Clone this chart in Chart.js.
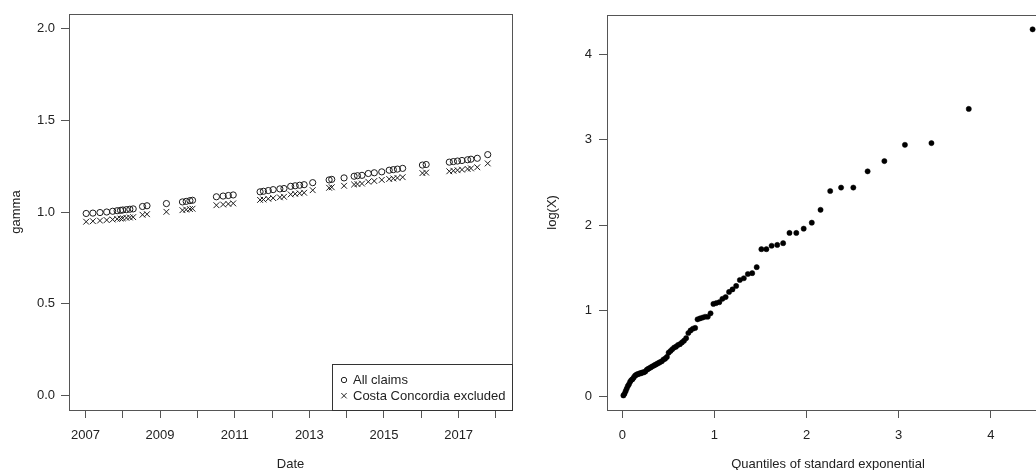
<!DOCTYPE html>
<html>
<head>
<meta charset="utf-8">
<script src="https://cdn.jsdelivr.net/npm/chart.js@4.4.1/dist/chart.umd.min.js"></script>
<style>
html, body { margin: 0; padding: 0; background: #fff; overflow: hidden; width: 1036px; height: 470px; }
canvas { position: absolute; top: 0; }
#gammaChart { left: 0; }
#qqChart { left: 518px; }
</style>
</head>
<body>
<canvas id="gammaChart" width="518" height="470"></canvas>
<canvas id="qqChart" width="542" height="470"></canvas>
<script>
// left panel: estimated gamma per claim date (decimal years)
var claimDates = [2007.02, 2007.20, 2007.39, 2007.57, 2007.73, 2007.85, 2007.94, 2008.00, 2008.10, 2008.19,
    2008.28, 2008.53, 2008.65, 2009.17, 2009.60, 2009.70, 2009.80, 2009.87, 2010.51, 2010.69,
    2010.83, 2010.96, 2011.68, 2011.77, 2011.90, 2012.03, 2012.21, 2012.32, 2012.50, 2012.62,
    2012.74, 2012.86, 2013.09, 2013.53, 2013.60, 2013.93, 2014.20, 2014.29, 2014.41, 2014.58,
    2014.74, 2014.94, 2015.14, 2015.25, 2015.36, 2015.50, 2016.03, 2016.13, 2016.75, 2016.86,
    2016.97, 2017.09, 2017.24, 2017.33, 2017.50, 2017.78];
var gammaAll = [0.992, 0.994, 0.997, 1.000, 1.004, 1.007, 1.009, 1.011, 1.013, 1.015,
    1.017, 1.030, 1.034, 1.046, 1.055, 1.058, 1.062, 1.064, 1.083, 1.087,
    1.090, 1.093, 1.110, 1.113, 1.117, 1.122, 1.126, 1.128, 1.140, 1.143,
    1.146, 1.149, 1.160, 1.175, 1.178, 1.186, 1.195, 1.198, 1.200, 1.210,
    1.214, 1.219, 1.228, 1.231, 1.234, 1.238, 1.256, 1.259, 1.272, 1.275,
    1.278, 1.281, 1.285, 1.288, 1.293, 1.313];
var gammaNoConcordia = [0.947, 0.950, 0.953, 0.956, 0.959, 0.962, 0.964, 0.966, 0.968, 0.970,
    0.972, 0.985, 0.988, 1.001, 1.010, 1.013, 1.016, 1.018, 1.037, 1.041,
    1.044, 1.047, 1.066, 1.068, 1.072, 1.076, 1.080, 1.083, 1.096, 1.099,
    1.102, 1.105, 1.119, 1.132, 1.135, 1.143, 1.150, 1.152, 1.155, 1.165,
    1.169, 1.175, 1.180, 1.183, 1.186, 1.190, 1.212, 1.215, 1.222, 1.225,
    1.228, 1.231, 1.235, 1.238, 1.244, 1.265];
var yearLabels = [2007, 2009, 2011, 2013, 2015, 2017];

// right panel: exponential QQ plot
var expQuantiles = [0.012, 0.024, 0.036, 0.048, 0.060, 0.072, 0.085, 0.098, 0.111, 0.124,
    0.137, 0.150, 0.164, 0.178, 0.192, 0.206, 0.220, 0.235, 0.250, 0.265,
    0.280, 0.296, 0.311, 0.327, 0.344, 0.360, 0.377, 0.394, 0.411, 0.429,
    0.447, 0.465, 0.484, 0.503, 0.523, 0.542, 0.563, 0.583, 0.604, 0.626,
    0.648, 0.670, 0.693, 0.717, 0.741, 0.766, 0.791, 0.817, 0.843, 0.871,
    0.899, 0.928, 0.958, 0.989, 1.020, 1.053, 1.087, 1.122, 1.159, 1.196,
    1.236, 1.276, 1.319, 1.363, 1.410, 1.459, 1.510, 1.564, 1.621, 1.682,
    1.746, 1.815, 1.889, 1.969, 2.057, 2.152, 2.257, 2.375, 2.508, 2.663,
    2.845, 3.068, 3.356, 3.761, 4.454];
var logX = [0.01, 0.03, 0.06, 0.09, 0.12, 0.14, 0.17, 0.19, 0.20, 0.22,
    0.24, 0.25, 0.26, 0.26, 0.27, 0.27, 0.28, 0.28, 0.29, 0.31,
    0.32, 0.33, 0.34, 0.35, 0.36, 0.37, 0.38, 0.39, 0.40, 0.41,
    0.43, 0.44, 0.46, 0.51, 0.53, 0.55, 0.57, 0.58, 0.60, 0.61,
    0.63, 0.65, 0.68, 0.74, 0.77, 0.79, 0.80, 0.90, 0.91, 0.92,
    0.93, 0.93, 0.97, 1.08, 1.09, 1.10, 1.14, 1.16, 1.22, 1.25,
    1.29, 1.36, 1.38, 1.43, 1.44, 1.51, 1.72, 1.72, 1.76, 1.77,
    1.79, 1.91, 1.91, 1.96, 2.03, 2.18, 2.40, 2.44, 2.44, 2.63,
    2.75, 2.94, 2.96, 3.36, 4.29];

Chart.defaults.font.family = '"Liberation Sans", Arial, Helvetica, sans-serif';
Chart.defaults.font.size = 13;
Chart.defaults.color = '#222';
Chart.defaults.animation = false;

function pairs(xs, ys) {
    return xs.map(function (x, i) { return { x: x, y: ys[i] }; });
}

// R style box round the plot region
var frame = {
    id: 'frame',
    afterDraw: function (chart) {
        var a = chart.chartArea, c = chart.ctx;
        c.save();
        c.strokeStyle = '#555';
        c.lineWidth = 1;
        c.strokeRect(Math.round(a.left) + 0.5, Math.round(a.top) + 0.5,
            Math.round(a.right - a.left), Math.round(a.bottom - a.top));
        c.restore();
    }
};

// legend box in the bottom right corner
var cornerLegend = {
    id: 'cornerLegend',
    afterDraw: function (chart) {
        var a = chart.chartArea, c = chart.ctx;
        var left = 332, top = 364;
        c.save();
        c.strokeStyle = '#333';
        c.lineWidth = 1;
        c.strokeRect(left + 0.5, top + 0.5, Math.round(a.right) - left, Math.round(a.bottom) - top);
        c.strokeStyle = '#222';
        c.beginPath();
        c.arc(344, 380, 2.7, 0, Math.PI * 2);
        c.stroke();
        c.beginPath();
        c.moveTo(341.3, 393); c.lineTo(346.7, 398.4);
        c.moveTo(346.7, 393); c.lineTo(341.3, 398.4);
        c.stroke();
        c.fillStyle = '#222';
        c.font = '13px "Liberation Sans", Arial, sans-serif';
        c.textBaseline = 'middle';
        c.fillText('All claims', 353, 380);
        c.fillText('Costa Concordia excluded', 353, 396);
        c.restore();
    }
};

function tickGrid() {
    return { drawOnChartArea: false, drawTicks: true, tickLength: 8, color: '#555' };
}

new Chart(document.getElementById('gammaChart'), {
    type: 'scatter',
    data: {
        datasets: [{
            label: 'All claims',
            data: pairs(claimDates, gammaAll),
            pointStyle: 'circle',
            pointRadius: 3.1,
            backgroundColor: 'rgba(0,0,0,0)',
            borderColor: '#1a1a1a',
            borderWidth: 1
        }, {
            label: 'Costa Concordia excluded',
            data: pairs(claimDates, gammaNoConcordia),
            pointStyle: 'crossRot',
            pointRadius: 4.1,
            borderColor: '#1a1a1a',
            borderWidth: 1
        }]
    },
    options: {
        responsive: false,
        layout: { padding: { top: 14, right: 6, left: 0, bottom: 0 } },
        plugins: { legend: { display: false }, tooltip: { enabled: false } },
        scales: {
            x: {
                type: 'linear', min: 2006.56, max: 2018.43,
                afterFit: function (s) { s.height = 60; },
                ticks: {
                    stepSize: 1, includeBounds: false, autoSkip: false, maxRotation: 0, padding: 10,
                    callback: function (v) {
                        var y = Math.round(v);
                        return yearLabels.indexOf(y) >= 0 ? String(y) : '';
                    }
                },
                grid: tickGrid(),
                border: { display: false },
                title: { display: true, text: 'Date', padding: { top: 0, bottom: -2 } }
            },
            y: {
                type: 'linear', min: -0.08, max: 2.08,
                afterFit: function (s) { s.width = 69; },
                ticks: {
                    stepSize: 0.5, includeBounds: false, padding: 6,
                    callback: function (v) { return v.toFixed(1); }
                },
                grid: tickGrid(),
                border: { display: false },
                title: { display: true, text: 'gamma', padding: { top: 9, bottom: 0 } }
            }
        }
    },
    plugins: [frame, cornerLegend]
});

new Chart(document.getElementById('qqChart'), {
    type: 'scatter',
    data: {
        datasets: [{
            label: 'log(X)',
            data: pairs(expQuantiles, logX),
            pointStyle: 'circle',
            pointRadius: 2.6,
            backgroundColor: '#000',
            borderColor: '#000',
            borderWidth: 0.5
        }]
    },
    options: {
        responsive: false,
        layout: { padding: { top: 14.5, right: 11, left: 0, bottom: 0 } },
        plugins: { legend: { display: false }, tooltip: { enabled: false } },
        scales: {
            x: {
                type: 'linear', min: -0.166, max: 4.632,
                afterFit: function (s) { s.height = 60; },
                ticks: { stepSize: 1, includeBounds: false, autoSkip: false, maxRotation: 0, padding: 10 },
                grid: tickGrid(),
                border: { display: false },
                title: { display: true, text: 'Quantiles of standard exponential', padding: { top: 0, bottom: -2 } }
            },
            y: {
                type: 'linear', min: -0.16, max: 4.46,
                afterFit: function (s) { s.width = 89; },
                ticks: { stepSize: 1, includeBounds: false, padding: 7 },
                grid: tickGrid(),
                border: { display: false },
                title: { display: true, text: 'log(X)', padding: { top: 27, bottom: 0 } }
            }
        }
    },
    plugins: [frame]
});
</script>
</body>
</html>
